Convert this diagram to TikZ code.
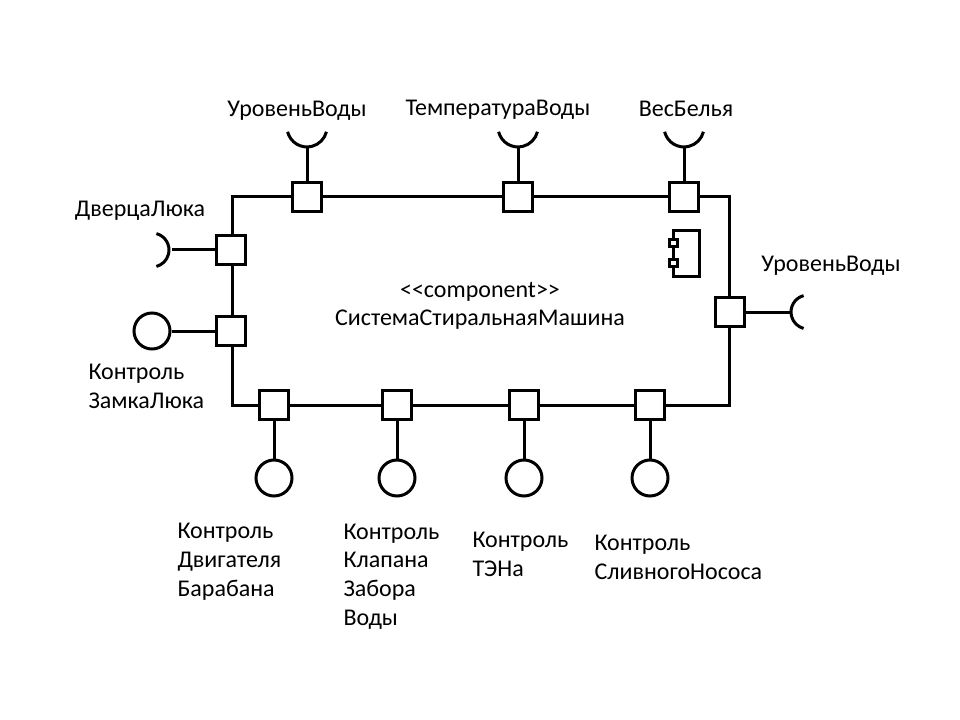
\documentclass[tikz,border=0pt]{standalone}
\usepackage{fontspec}
\setmainfont{Carlito}
\usetikzlibrary{positioning}
\tikzset{
  port/.style={draw, fill=white, minimum size=21.5pt, inner sep=0pt},
  lolli/.style={draw, circle, minimum size=27pt, inner sep=0pt},
  lbl/.style={inner sep=0pt, align=left, font=\fontsize{18}{21.4}\selectfont},
}

\begin{document}
\begin{tikzpicture}[x=0.75pt, y=-0.75pt, line width=2.25pt]
\useasboundingbox (0,0) rectangle (960,720);
% frame
\coordinate (nw) at (232,197);
\coordinate (se) at (729,405);
\draw (nw) rectangle (se);
\node[lbl, align=center] (title) at (480,306) {<{}<component>{}>\\СистемаСтиральнаяМашина};
% component icon
\draw (673,231) rectangle (699,277);
\draw[fill=white] (669,240) rectangle (677,247);
\draw[fill=white] (669,260) rectangle (677,267);
% top ports with sockets
\foreach \i/\x in {1/307,2/518,3/684} {
  \node[port] (pT\i) at (\x,197) {};
  \coordinate (sT\i) at (\x,147);
  \draw (pT\i) -- (sT\i);
  \draw (sT\i) ++(-19.4,-15.2) arc[start angle=166, end angle=14, radius=20];
}
\node[lbl, anchor=base] (lT1) at (297,117) {УровеньВоды};
\node[lbl, anchor=base] (lT2) at (498,116) {ТемператураВоды};
\node[lbl, anchor=base] (lT3) at (686,117) {ВесБелья};
% left ports
\node[port] (pL1) at (231,250) {};
\coordinate (sL1) at (172,250);
\draw (pL1) -- (sL1);
\draw (sL1) ++(-15.6,-16.4) arc[start angle=-75, end angle=75, radius=17];
\node[lbl, anchor=base] (lL1) at (140,217) {ДверцаЛюка};
\node[port] (pL2) at (231,331) {};
\node[lolli] (cL2) at (152,331) {};
\draw (cL2) -- (pL2);
\node[lbl, anchor=base west] (lL2) at (87,408) {Контроль\\ЗамкаЛюка};
% right port
\node[port] (pR1) at (730,312) {};
\coordinate (sR1) at (791,312);
\draw (pR1) -- (sR1);
\draw (sR1) ++(12.6,-16.4) arc[start angle=255, end angle=105, radius=17];
\node[lbl, anchor=base] (lR1) at (831,272) {УровеньВоды};
% bottom ports with lollipops
\foreach \i/\x in {1/274,2/397,3/524,4/650} {
  \node[port] (pB\i) at (\x,405) {};
  \node[lolli] (cB\i) at (\x,478) {};
  \draw (pB\i) -- (cB\i);
}
\node[lbl, anchor=base west] (lB1) at (176,596) {Контроль\\Двигателя\\Барабана};
\node[lbl, anchor=base west] (lB2) at (342,625) {Контроль\\Клапана\\Забора\\Воды};
\node[lbl, anchor=base west] (lB3) at (471,576) {Контроль\\ТЭНа};
\node[lbl, anchor=base west] (lB4) at (593,579) {Контроль\\СливногоНососа};
\end{tikzpicture}
\end{document}
